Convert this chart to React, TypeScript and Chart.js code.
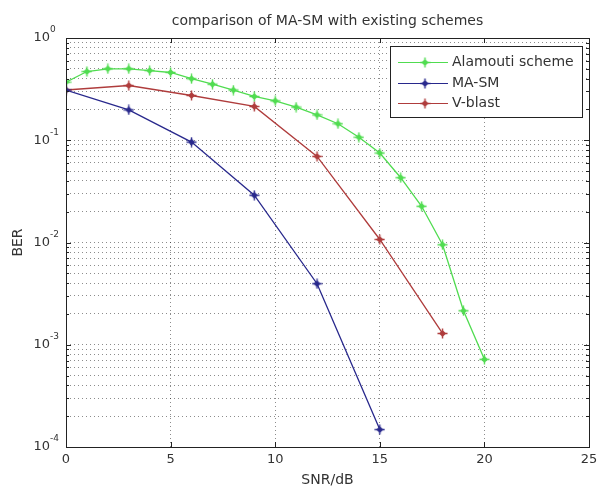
import React, { useEffect, useRef } from 'react';
import { Chart, registerables } from 'chart.js';
Chart.register(...registerables);

const chartTitle = 'comparison of MA-SM with existing schemes';
const xLabel = 'SNR/dB';
const yLabel = 'BER';
const seriesNames = ['Alamouti scheme', 'MA-SM', 'V-blast'];

const snrAlamouti = [0, 1, 2, 3, 4, 5, 6, 7, 8, 9, 10, 11, 12, 13, 14, 15, 16, 17, 18, 19, 20];
const berAlamouti = [0.37, 0.47, 0.5, 0.5, 0.48, 0.46, 0.4, 0.353, 0.31, 0.268, 0.243, 0.211, 0.177, 0.145, 0.107, 0.075, 0.043, 0.0226, 0.0095, 0.00215, 0.00072];
const snrMASM = [0, 3, 6, 9, 12, 15];
const berMASM = [0.31, 0.198, 0.096, 0.029, 0.00395, 0.000148];
const snrVblast = [0, 3, 6, 9, 12, 15, 18];
const berVblast = [0.31, 0.343, 0.274, 0.214, 0.0695, 0.0107, 0.00129];

const xTicks = [0, 5, 10, 15, 20, 25];
const yDecades = [0, -1, -2, -3, -4];

const colors = ['rgb(80,220,80)', 'rgb(40,40,140)', 'rgb(175,60,60)'];
const FONT = '"DejaVu Sans", sans-serif';

function makeMarker(color: string): HTMLCanvasElement {
  const c = document.createElement('canvas');
  c.width = 11;
  c.height = 11;
  const g = c.getContext('2d')!;
  g.strokeStyle = color;
  g.fillStyle = color;
  g.lineWidth = 1.4;
  g.beginPath();
  g.moveTo(5.5, 0.5); g.lineTo(5.5, 10.5);
  g.moveTo(0.5, 5.5); g.lineTo(10.5, 5.5);
  g.stroke();
  g.beginPath();
  g.moveTo(5.5, 2); g.lineTo(9, 5.5); g.lineTo(5.5, 9); g.lineTo(2, 5.5); g.closePath();
  g.fill();
  return c;
}

export default function App() {
  const ref = useRef<HTMLCanvasElement>(null);
  useEffect(() => {
    document.body.style.margin = '0';
    const markers = colors.map(makeMarker);
    const xs = [snrAlamouti, snrMASM, snrVblast];
    const ys = [berAlamouti, berMASM, berVblast];

    const yTickVals: number[] = [];
    for (let k = -4; k <= 0; k++) {
      for (let m = 1; m <= 9; m++) {
        const v = m * Math.pow(10, k);
        if (v <= 1.0000001) yTickVals.push(v);
      }
    }

    const decor = {
      id: 'decor',
      afterDraw(chart: any) {
        const ctx = chart.ctx;
        const a = chart.chartArea;
        const xs_ = chart.scales.x;
        const ys_ = chart.scales.y;
        ctx.save();
        ctx.strokeStyle = '#222';
        ctx.lineWidth = 1;
        ctx.strokeRect(Math.round(a.left) + 0.5, Math.round(a.top) + 0.5, Math.round(a.right - a.left), Math.round(a.bottom - a.top));
        ctx.beginPath();
        yTickVals.forEach((v) => {
          const isMajor = Math.abs(Math.log10(v) - Math.round(Math.log10(v))) < 1e-6;
          const len = isMajor ? 5 : 3;
          const y = Math.round(ys_.getPixelForValue(v)) + 0.5;
          ctx.moveTo(a.left, y); ctx.lineTo(a.left + len, y);
          ctx.moveTo(a.right, y); ctx.lineTo(a.right - len, y);
        });
        xTicks.forEach((v) => {
          const x = Math.round(xs_.getPixelForValue(v)) + 0.5;
          ctx.moveTo(x, a.bottom); ctx.lineTo(x, a.bottom - 5);
          ctx.moveTo(x, a.top); ctx.lineTo(x, a.top + 5);
        });
        ctx.stroke();
        ctx.fillStyle = '#333';
        ctx.font = '13px ' + FONT;
        ctx.textAlign = 'center';
        ctx.textBaseline = 'middle';
        xTicks.forEach((v) => {
          ctx.fillText(String(v), xs_.getPixelForValue(v), a.bottom + 13);
        });
        yDecades.forEach((k) => {
          const y = ys_.getPixelForValue(Math.pow(10, k));
          ctx.font = '13px ' + FONT;
          ctx.textAlign = 'right';
          ctx.fillText('10', 50, y);
          ctx.font = '9px ' + FONT;
          ctx.textAlign = 'left';
          ctx.fillText(String(k), 50, y - 8);
        });
        ctx.font = '14px ' + FONT;
        ctx.textAlign = 'center';
        ctx.fillText(chartTitle, (a.left + a.right) / 2, 21);
        ctx.fillText(xLabel, (a.left + a.right) / 2, a.bottom + 33);
        ctx.save();
        ctx.translate(18, (a.top + a.bottom) / 2);
        ctx.rotate(-Math.PI / 2);
        ctx.fillText(yLabel, 0, 0);
        ctx.restore();
        const bx = 390, by = 46, bw = 192, bh = 71;
        ctx.fillStyle = '#fff';
        ctx.fillRect(bx, by, bw, bh);
        ctx.strokeStyle = '#222';
        ctx.lineWidth = 1;
        ctx.strokeRect(bx + 0.5, by + 0.5, bw, bh);
        const rows = [62, 83, 103];
        seriesNames.forEach((name, i) => {
          const y = rows[i];
          ctx.strokeStyle = colors[i];
          ctx.lineWidth = 1.2;
          ctx.beginPath();
          ctx.moveTo(398, y + 0.5); ctx.lineTo(448, y + 0.5);
          ctx.stroke();
          ctx.drawImage(markers[i], 425 - 5.5, y + 0.5 - 5.5);
          ctx.fillStyle = '#333';
          ctx.font = '14px ' + FONT;
          ctx.textAlign = 'left';
          ctx.fillText(name, 452, y);
        });
        ctx.restore();
      },
    };

    const chart = new Chart(ref.current!, {
      type: 'line',
      data: {
        datasets: seriesNames.map((name, i) => ({
          label: name,
          data: xs[i].map((x, j) => ({ x, y: ys[i][j] })),
          borderColor: colors[i],
          backgroundColor: colors[i],
          borderWidth: 1.3,
          pointStyle: markers[i] as any,
          pointRadius: 5,
          tension: 0,
          fill: false,
        })),
      },
      options: {
        animation: false,
        responsive: false,
        layout: { padding: { left: 66, right: 8, top: 38, bottom: 41 } },
        plugins: { legend: { display: false }, title: { display: false }, tooltip: { enabled: false } },
        scales: {
          x: {
            type: 'linear',
            min: 0,
            max: 25,
            ticks: { display: false, stepSize: 5 },
            grid: { color: 'rgba(0,0,0,0.45)', drawTicks: false, lineWidth: 1 },
            border: { display: false, dash: [1, 3] },
            afterFit: (s: any) => { s.height = 0; },
          },
          y: {
            type: 'logarithmic',
            min: 1e-4,
            max: 1,
            ticks: { display: false },
            afterBuildTicks: (s: any) => { s.ticks = yTickVals.map((v) => ({ value: v })); },
            grid: { color: 'rgba(0,0,0,0.45)', drawTicks: false, lineWidth: 1 },
            border: { display: false, dash: [1, 3] },
            afterFit: (s: any) => { s.width = 0; },
          },
        },
      },
      plugins: [decor],
    });
    return () => chart.destroy();
  }, []);
  return (
    <div style={{ position: 'absolute', left: 0, top: 0, width: 597, height: 488, background: '#fff' }}>
      <canvas ref={ref} width={597} height={488} />
    </div>
  );
}
